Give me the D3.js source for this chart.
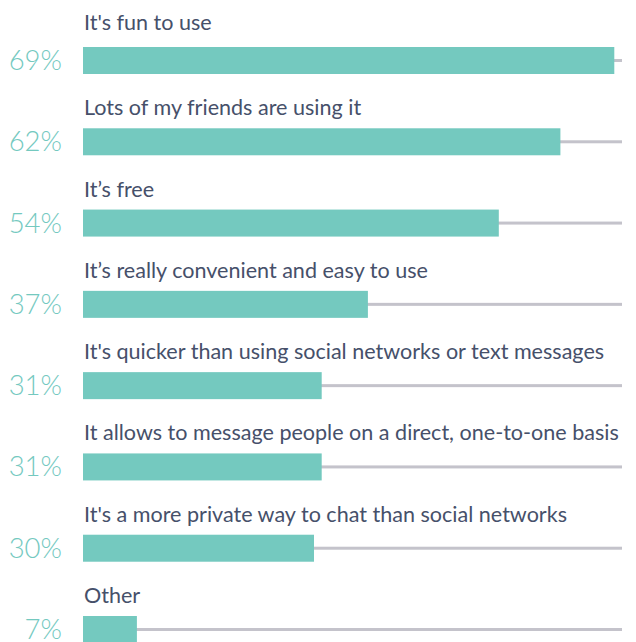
<!DOCTYPE html>
<html>
<head>
<meta charset="utf-8">
<script src="https://cdn.jsdelivr.net/npm/d3@7"></script>
<style>
  html, body { margin: 0; padding: 0; background: #ffffff; }
  svg { display: block; }
</style>
</head>
<body>
<div id="chart"></div>
<script>
const categories = [
  "It's fun to use",
  "Lots of my friends are using it",
  "It\u2019s free",
  "It\u2019s really convenient and easy to use",
  "It's quicker than using social networks or text messages",
  "It allows to message people on a direct, one-to-one basis",
  "It's a more private way to chat than social networks",
  "Other"
];
const values = [69, 62, 54, 37, 31, 31, 30, 7];
const valueLabels = ["69%", "62%", "54%", "37%", "31%", "31%", "30%", "7%"];

const W = 636, H = 642;
const teal = "#74c9bf", gray = "#c4c3cb", textColor = "#46506a";
const fontFamily = "Lato, 'Open Sans', sans-serif";

const svg = d3.select("#chart").append("svg")
  .attr("width", W).attr("height", H);

const x = d3.scaleLinear().domain([0, 70]).range([83, 622]);
const y = d3.scalePoint().domain(categories).range([47, 616]);
const barH = 27;

const rows = svg.selectAll("g.row")
  .data(categories.map((c, i) => ({ c, v: values[i], l: valueLabels[i], i })))
  .enter().append("g").attr("class", "row");

rows.append("rect")
  .attr("x", x(0))
  .attr("y", d => y(d.c) + barH / 2 - 1.5)
  .attr("width", x(70) - x(0))
  .attr("height", 3)
  .attr("fill", gray);

rows.append("rect")
  .attr("x", x(0))
  .attr("y", d => y(d.c))
  .attr("width", d => x(d.v) - x(0))
  .attr("height", barH)
  .attr("fill", teal);

const labels = rows.append("text")
  .attr("x", 84)
  .attr("y", d => y(d.c) - (d.i === 0 ? 17 : 13))
  .attr("fill", textColor)
  .attr("font-family", fontFamily)
  .attr("font-size", 20)
  .text(d => d.c);

// fit label font size so the longest label spans like the reference (~535px)
let maxW = 0;
labels.each(function () { maxW = Math.max(maxW, this.getComputedTextLength()); });
const fs = 20 * 535 / maxW;
labels.attr("font-size", fs);

rows.append("text")
  .attr("x", 62)
  .attr("y", d => y(d.c) + 23)
  .attr("text-anchor", "end")
  .attr("fill", teal)
  .attr("font-family", fontFamily)
  .attr("font-weight", 300)
  .attr("font-size", 27.5)
  .text(d => d.l);
</script>
</body>
</html>
